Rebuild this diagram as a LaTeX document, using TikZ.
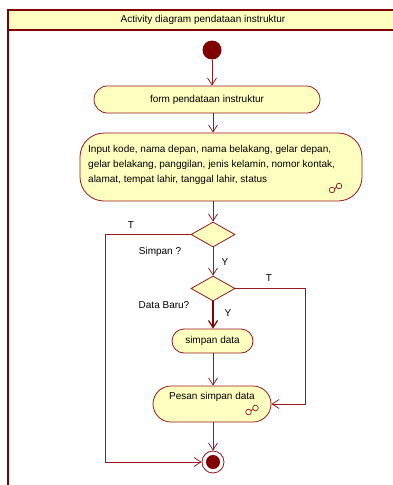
\documentclass[tikz,border=0pt]{standalone}
\usepackage{fontspec}
\setmainfont{Liberation Sans}
\usetikzlibrary{arrows.meta,shapes.geometric}
\definecolor{frm}{RGB}{128,0,0}
\definecolor{ln}{RGB}{150,25,35}
\definecolor{fillc}{RGB}{255,255,192}
\tikzset{
  act/.style={draw=ln, fill=fillc, line width=0.8pt, inner sep=0pt},
  dec/.style={diamond, draw=ln, fill=fillc, line width=0.8pt, inner sep=0pt, minimum width=44pt, minimum height=25pt},
  arr/.style={draw=ln, line width=0.75pt, -{Straight Barb[length=7pt,width=9pt]}},
  thk/.style={draw=frm, line width=2pt, -{Straight Barb[length=7pt,width=9pt,line width=1.2pt]}},
  txt/.style={font=\fontsize{10}{12}\selectfont, inner sep=0pt},
}
\begin{document}
\begin{tikzpicture}[x=1pt,y=-1pt]
\useasboundingbox (0,0) rectangle (393,485);
\clip (0,0) rectangle (393,485);
\fill[white] (0,0) rectangle (393,485);
% frame
\draw[frm, line width=1.2pt, fill=fillc] (8,10) rectangle (410,30);
\draw[frm, line width=1.5pt] (8,500) -- (8,10) -- (410,10);
\node[txt] (title) at (203,20) {Activity diagram pendataan instruktur};
% nodes
\node[circle, fill=frm, minimum size=19pt, inner sep=0pt] (init) at (212,50) {};
\node[act, rounded corners=13.5pt, minimum width=226pt, minimum height=27pt] (form) at (207,99.5) {};
\node[txt] at (form.center) {form pendataan instruktur};
\node[act, rounded corners=24pt, minimum width=282pt, minimum height=68pt] (input) at (221,167) {};
\node[txt, align=left, anchor=north west, font=\fontsize{10}{15}\selectfont] (inputtxt) at (88,145) {Input kode, nama depan, nama belakang, gelar depan,\\gelar belakang, panggilan, jenis kelamin, nomor kontak,\\alamat, tempat lahir, tanggal lahir, status};
\node[dec] (d1) at (213,234.5) {};
\node[dec] (d2) at (213,288.5) {};
\node[act, rounded corners=12pt, minimum width=81pt, minimum height=24pt] (simpan) at (212.5,341) {};
\node[txt] at (simpan.center) {simpan data};
\node[act, rounded corners=18pt, minimum width=118pt, minimum height=36pt] (pesan) at (212,404) {};
\node[txt] at (212,397) {Pesan simpan data};
\node[circle, draw=ln, fill=white, line width=0.8pt, minimum size=22pt, inner sep=0pt] (fin) at (213,462) {};
\fill[frm] (fin.center) circle (7pt);
% icons
\draw[ln, line width=0.7pt] (332,190) circle (2.8pt) (339,186) circle (2.8pt) (334.6,189) -- (336.4,187);
\draw[ln, line width=0.7pt] (248.5,412) circle (2.8pt) (255.5,408) circle (2.8pt) (251.1,411) -- (252.9,409);
% labels
\node[txt] (lt1) at (131,225) {T};
\node[txt] (ls) at (160,252) {Simpan ?};
\node[txt] (ly1) at (225,262) {Y};
\node[txt] (lt2) at (269,278) {T};
\node[txt] (ldb) at (164,305) {Data Baru?};
\node[txt] (ly2) at (228,313) {Y};
% routing coordinates
\coordinate (lx) at (105,0);
\coordinate (rx) at (305,0);
% connectors
\draw[arr] (init) -- (form.north -| init);
\draw[arr] (form.south -| d1) -- (input.north -| d1);
\draw[arr] (input.south -| d1) -- (d1.north);
\draw[arr] (d1.south) -- (d2.north);
\draw[arr] (d1.west) -- (d1.west -| lx) -- (lx |- fin) -- (fin.west);
\draw[thk] (d2.south) -- (simpan.north -| d2);
\draw[arr] (d2.east) -- (d2.east -| rx) -- (rx |- pesan.east) -- (pesan.east);
\draw[arr] (simpan.south -| d2) -- (pesan.north -| d2);
\draw[arr] (pesan.south -| fin) -- (fin.north);
\end{tikzpicture}
\end{document}
